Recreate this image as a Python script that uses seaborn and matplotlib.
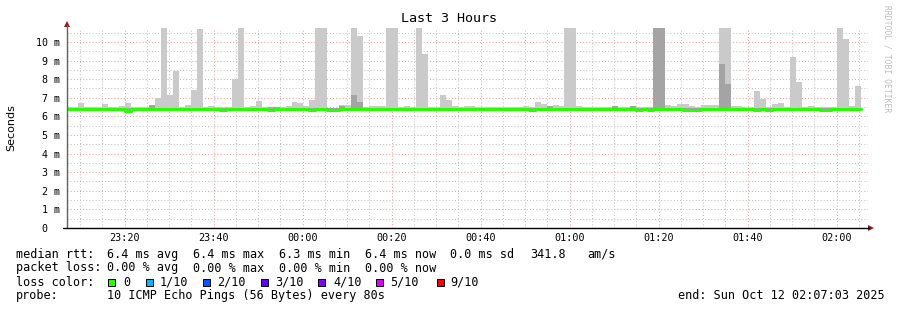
import numpy as np
import pandas as pd
import matplotlib
matplotlib.use("Agg")
import matplotlib.pyplot as plt
import matplotlib.dates as mdates
from matplotlib.patches import Polygon, Rectangle
from matplotlib.lines import Line2D
import seaborn as sns

# ---------------- data ----------------
title = "Last 3 Hours"
y_label = "Seconds"
watermark = "RRDTOOL / TOBI OETIKER"
start = pd.Timestamp("2025-10-11 23:07:03")
end = pd.Timestamp("2025-10-12 02:07:03")
first_step = pd.Timestamp("2025-10-11 23:06:50")
step_seconds = 80

# smoke (ms) per 80 s step; outer layer top (max ping)
smoke_max = [
    6.52, 6.50, 6.72, 6.50, 6.50, 6.50, 6.67, 6.50, 6.50, 6.55,
    6.72, 6.50, 6.50, 6.50, 6.60, 7.00, 10.75, 7.15, 8.44, 6.50,
    6.60, 7.42, 10.70, 6.50, 6.55, 6.50, 6.50, 6.50, 8.00, 10.75,
    6.50, 6.55, 6.83, 6.52, 6.50, 6.50, 6.50, 6.55, 6.77, 6.72,
    6.55, 6.88, 10.75, 10.75, 6.45, 6.45, 6.60, 6.60, 10.75, 10.32,
    6.50, 6.55, 6.55, 6.55, 10.75, 10.75, 6.50, 6.55, 6.50, 10.75,
    9.35, 6.50, 6.50, 7.15, 6.88, 6.55, 6.50, 6.55, 6.55, 6.50,
    6.48, 6.48, 6.50, 6.50, 6.50, 6.50, 6.50, 6.55, 6.50, 6.77,
    6.67, 6.55, 6.60, 6.55, 10.75, 10.75, 6.55, 6.52, 6.50, 6.50,
    6.50, 6.50, 6.55, 6.50, 6.50, 6.55, 6.50, 6.50, 6.50, 10.75,
    10.75, 6.60, 6.55, 6.67, 6.67, 6.55, 6.50, 6.60, 6.60, 6.60,
    10.75, 10.75, 6.55, 6.55, 6.50, 6.50, 7.36, 6.94, 6.50, 6.67,
    6.72, 6.50, 9.19, 7.85, 6.50, 6.55, 6.50, 6.50, 6.50, 6.50,
    10.75, 10.16, 6.55, 7.63, np.nan,
]
# second smoke layer top
smoke_mid = [
    6.45, 6.45, 6.45, 6.45, 6.45, 6.45, 6.45, 6.45, 6.45, 6.45,
    6.45, 6.45, 6.45, 6.45, 6.60, 6.47, 6.47, 6.45, 6.45, 6.45,
    6.45, 6.45, 6.47, 6.45, 6.45, 6.45, 6.45, 6.45, 6.45, 6.47,
    6.45, 6.45, 6.45, 6.45, 6.50, 6.50, 6.45, 6.45, 6.45, 6.45,
    6.45, 6.45, 6.47, 6.47, 6.45, 6.45, 6.55, 6.45, 7.15, 6.77,
    6.45, 6.45, 6.45, 6.45, 6.47, 6.47, 6.45, 6.45, 6.45, 6.47,
    6.47, 6.45, 6.45, 6.45, 6.45, 6.45, 6.45, 6.45, 6.45, 6.45,
    6.45, 6.45, 6.45, 6.45, 6.45, 6.45, 6.45, 6.45, 6.45, 6.45,
    6.45, 6.55, 6.45, 6.45, 6.47, 6.47, 6.45, 6.45, 6.45, 6.45,
    6.45, 6.45, 6.55, 6.45, 6.45, 6.55, 6.45, 6.45, 6.45, 10.75,
    10.75, 6.45, 6.45, 6.45, 6.45, 6.45, 6.45, 6.45, 6.45, 6.45,
    8.80, 7.75, 6.45, 6.45, 6.45, 6.45, 6.47, 6.45, 6.45, 6.45,
    6.45, 6.45, 6.47, 6.45, 6.45, 6.45, 6.45, 6.45, 6.45, 6.45,
    6.47, 6.47, 6.45, 6.47, np.nan,
]
# smoke bottom (min ping)
smoke_min = [
    6.32, 6.32, 6.32, 6.32, 6.32, 6.32, 6.32, 6.32, 6.32, 6.32,
    6.28, 6.28, 6.32, 6.32, 6.32, 6.32, 6.32, 6.32, 6.32, 6.32,
    6.32, 6.32, 6.32, 6.32, 6.32, 6.32, 6.28, 6.32, 6.32, 6.32,
    6.32, 6.32, 6.32, 6.32, 6.28, 6.32, 6.32, 6.32, 6.32, 6.32,
    6.32, 6.28, 6.32, 6.32, 6.28, 6.28, 6.32, 6.32, 6.32, 6.32,
    6.32, 6.32, 6.32, 6.32, 6.32, 6.32, 6.32, 6.32, 6.32, 6.32,
    6.32, 6.32, 6.32, 6.32, 6.32, 6.32, 6.32, 6.32, 6.32, 6.32,
    6.32, 6.32, 6.32, 6.32, 6.32, 6.32, 6.32, 6.32, 6.28, 6.32,
    6.32, 6.32, 6.32, 6.32, 6.32, 6.32, 6.32, 6.32, 6.32, 6.32,
    6.32, 6.32, 6.32, 6.32, 6.32, 6.32, 6.28, 6.32, 6.28, 6.32,
    6.32, 6.32, 6.32, 6.32, 6.32, 6.28, 6.28, 6.32, 6.32, 6.32,
    6.32, 6.32, 6.32, 6.32, 6.32, 6.32, 6.28, 6.32, 6.28, 6.32,
    6.32, 6.32, 6.32, 6.32, 6.32, 6.32, 6.32, 6.28, 6.28, 6.32,
    6.32, 6.32, 6.32, 6.32, np.nan,
]
# median rtt (ms)
median_rtt = [
    6.38, 6.38, 6.38, 6.38, 6.38, 6.38, 6.38, 6.38, 6.38, 6.38,
    6.31, 6.38, 6.38, 6.40, 6.40, 6.38, 6.38, 6.38, 6.38, 6.38,
    6.38, 6.38, 6.38, 6.38, 6.38, 6.38, 6.33, 6.38, 6.38, 6.38,
    6.38, 6.38, 6.38, 6.38, 6.32, 6.38, 6.38, 6.38, 6.38, 6.38,
    6.38, 6.32, 6.38, 6.38, 6.34, 6.34, 6.42, 6.40, 6.38, 6.38,
    6.38, 6.38, 6.38, 6.38, 6.38, 6.38, 6.38, 6.38, 6.38, 6.38,
    6.38, 6.38, 6.38, 6.38, 6.38, 6.38, 6.38, 6.38, 6.38, 6.38,
    6.38, 6.38, 6.38, 6.38, 6.38, 6.38, 6.38, 6.38, 6.33, 6.38,
    6.38, 6.38, 6.38, 6.38, 6.40, 6.40, 6.38, 6.38, 6.38, 6.38,
    6.38, 6.38, 6.38, 6.38, 6.38, 6.38, 6.32, 6.38, 6.35, 6.40,
    6.40, 6.38, 6.38, 6.38, 6.33, 6.33, 6.33, 6.38, 6.38, 6.38,
    6.42, 6.42, 6.38, 6.38, 6.38, 6.38, 6.33, 6.38, 6.33, 6.38,
    6.38, 6.38, 6.38, 6.38, 6.38, 6.38, 6.38, 6.33, 6.33, 6.38,
    6.38, 6.38, 6.38, 6.38, np.nan,
]

time_labels = ["23:20", "23:40", "00:00", "00:20", "00:40", "01:00", "01:20", "01:40", "02:00"]
y_ticks = [0, 1, 2, 3, 4, 5, 6, 7, 8, 9, 10]
y_tick_labels = ["0  ", "1 m", "2 m", "3 m", "4 m", "5 m", "6 m", "7 m", "8 m", "9 m", "10 m"]
y_max = 10.75

rtt_stats = [6.4, 6.4, 6.3, 6.4]
rtt_sd = 0.0
rtt_am = 341.8
loss_stats = [0.00, 0.00, 0.00, 0.00]
stat_names = ["avg", "max", "min", "now"]
loss_labels = ["0", "1/10", "2/10", "3/10", "4/10", "5/10", "9/10"]
loss_colors = ["#26ff00", "#00b8ff", "#0059ff", "#5e00ff", "#7e00ff", "#dd00ff", "#ff0000"]
probe_text = "10 ICMP Echo Pings (56 Bytes) every 80s"
end_text = "end: Sun Oct 12 02:07:03 2025"

# ---------------- figure ----------------
W, H = 897, 310
sns.set_theme(style="white")
plt.rcParams["font.family"] = ["DejaVu Sans Mono", "DejaVu Sans"]
MONO = "DejaVu Sans Mono"

fig = plt.figure(figsize=(W / 100, H / 100), dpi=100, facecolor="white")

def fx(x):
    return x / W

def fy(y):
    return 1 - y / H

ax = fig.add_axes([fx(67), fy(228), (868 - 67) / W, (228 - 28) / H])
ax.set_facecolor("white")

n = len(smoke_max)
times = pd.date_range(first_step, periods=n, freq=f"{step_seconds}s")
df = pd.DataFrame({"time": times, "max": smoke_max, "mid": smoke_mid,
                   "min": smoke_min, "median": median_rtt})
valid = df.dropna()
last = valid.iloc[[-1]].copy()
last["time"] = last["time"] + pd.Timedelta(seconds=step_seconds)
dstep = pd.concat([valid, last], ignore_index=True)

ax.fill_between(dstep["time"], dstep["min"], dstep["max"], step="post",
                color="#cacaca", lw=0, zorder=2)
ax.fill_between(dstep["time"], dstep["min"], dstep["mid"], step="post",
                color="#a4a4a4", lw=0, zorder=3)
sns.lineplot(data=dstep, x="time", y="median", ax=ax, color="#26ff00",
             lw=2.2, drawstyle="steps-post", zorder=4, legend=False)

ax.set_xlim(start, end)
ax.set_ylim(0, y_max)

ax.xaxis.set_major_locator(mdates.MinuteLocator(byminute=[0, 20, 40]))
ax.xaxis.set_major_formatter(mdates.DateFormatter("%H:%M"))
ax.xaxis.set_minor_locator(mdates.MinuteLocator(byminute=range(0, 60, 5)))
ax.set_yticks(y_ticks)
ax.set_yticklabels(y_tick_labels)
ax.set_yticks(np.arange(0.5, 10.75, 1.0), minor=True)

for lbl in ax.get_xticklabels() + ax.get_yticklabels():
    lbl.set_fontfamily(MONO)
ax.tick_params(axis="x", which="both", length=0, pad=3.5, labelsize=7.3, labelcolor="#000000")
ax.tick_params(axis="y", which="both", length=0, pad=5, labelsize=7.2, labelcolor="#000000")
ax.set_xlabel("")
ax.set_ylabel("")

ax.grid(which="minor", color="#c4c4c4", linestyle=(0, (1, 2)), lw=0.75)
ax.grid(which="major", color="#f2a0a0", linestyle=(0, (1, 2)), lw=0.75)
ax.set_axisbelow(True)
for s in ax.spines.values():
    s.set_visible(False)

# axes lines and arrows
fig.add_artist(Line2D([fx(67), fx(67)], [fy(228), fy(25)], color="#606060", lw=1.0))
fig.add_artist(Line2D([fx(63), fx(869)], [fy(228), fy(228)], color="#000000", lw=1.0))
fig.add_artist(Polygon([[fx(64), fy(27)], [fx(70), fy(27)], [fx(67), fy(21)]],
                       closed=True, color="#8b1a1a", lw=0, transform=fig.transFigure))
fig.add_artist(Polygon([[fx(868), fy(225)], [fx(868), fy(231)], [fx(874), fy(228)]],
                       closed=True, color="#8b1a1a", lw=0, transform=fig.transFigure))

# title, axis label, watermark
fig.text(0.5, fy(19), title, ha="center", va="center", fontsize=9.6, family=MONO, color="#000000")
fig.text(fx(11), fy(128), y_label, ha="center", va="center", rotation=90,
         fontsize=8, family="DejaVu Sans", color="#000000")
fig.text(fx(887), fy(59), watermark, ha="center", va="center", rotation=270,
         fontsize=5.8, family=MONO, color="#bdbdbd")

# legend
LFS = 8.5
def ltxt(x, y, s):
    fig.text(fx(x), fy(y), s, ha="left", va="center", fontsize=LFS, family=MONO, color="#000000")

row1, row2, row3, row4 = 254.3, 268.0, 282.0, 295.5
col_x = [107, 193, 279, 365]
ltxt(16, row1, "median rtt:")
for v, nm, x in zip(rtt_stats, stat_names, col_x):
    ltxt(x, row1, f"{v:.1f} ms {nm}")
ltxt(450, row1, f"{rtt_sd:.1f} ms sd")
ltxt(530, row1, f"{rtt_am:.1f}")
ltxt(587, row1, "am/s")

ltxt(16, row2, "packet loss:")
for v, nm, x in zip(loss_stats, stat_names, col_x):
    ltxt(x, row2, f"{v:.2f} % {nm}")

ltxt(16, row3, "loss color:")
sq_x = [108, 146, 203, 261, 318, 376, 437]
lab_x = [123, 160, 217, 275, 333, 390, 450]
for lab, c, sx, lx in zip(loss_labels, loss_colors, sq_x, lab_x):
    fig.add_artist(Rectangle((fx(sx), fy(row3 + 3.5)), 7 / W, 7 / H, facecolor=c,
                             edgecolor="#000000", lw=0.7, transform=fig.transFigure))
    ltxt(lx, row3, lab)

ltxt(16, row4, "probe:")
ltxt(107, row4, probe_text)
ltxt(678, row4, end_text)

fig.savefig("out.png", dpi=100, facecolor="white")
